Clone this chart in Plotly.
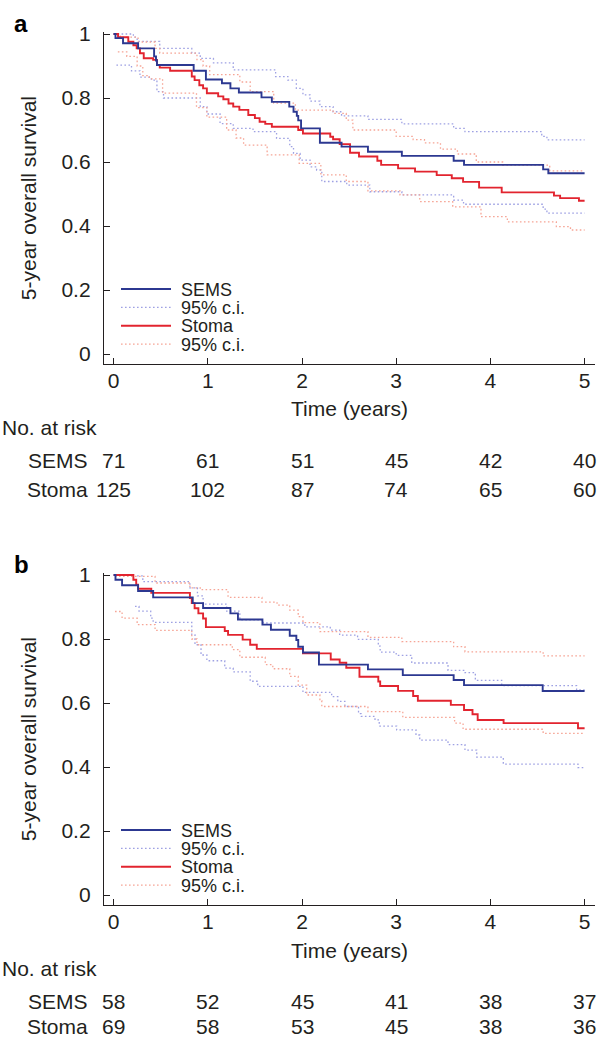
import plotly.graph_objects as go

W, H = 599, 1040

# ---------------- data ----------------
years = [0, 1, 2, 3, 4, 5]
y_tick_vals = [0, 0.2, 0.4, 0.6, 0.8, 1]
y_tick_text = ["0", "0.2", "0.4", "0.6", "0.8", "1"]
groups = ["SEMS", "Stoma"]
legend_labels = ["SEMS", "95% c.i.", "Stoma", "95% c.i."]

# Panel a – Kaplan-Meier estimates
a_sems_t = [0, 0.02, 0.10, 0.26, 0.43, 0.45, 0.46, 0.85, 0.98, 1.15, 1.24, 1.33, 1.57, 1.68,
            1.865, 1.91, 1.945, 1.96, 1.99, 2.19, 2.42, 2.70, 3.06, 3.61, 3.72, 4.56, 4.615, 5.0]
a_sems_s = [1.0, 0.987, 0.971, 0.955, 0.93, 0.917, 0.903, 0.885, 0.858, 0.846, 0.83, 0.817, 0.802, 0.788,
            0.773, 0.757, 0.744, 0.73, 0.705, 0.66, 0.648, 0.632, 0.619, 0.604, 0.591, 0.577, 0.565, 0.565]
a_sems_hi_t = [0, 0.21, 0.25, 0.49, 0.83, 0.92, 1.06, 1.27, 1.72, 1.85, 1.94, 2.01, 2.085, 2.19, 2.33,
               2.42, 2.70, 3.06, 3.61, 3.73, 4.545, 4.60, 5.0]
a_sems_hi_s = [1.0, 0.99, 0.977, 0.955, 0.94, 0.924, 0.91, 0.888, 0.867, 0.856, 0.83, 0.81, 0.79, 0.773, 0.757,
               0.744, 0.733, 0.719, 0.705, 0.695, 0.68, 0.669, 0.669]
a_sems_lo_t = [0.03, 0.19, 0.28, 0.40, 0.46, 0.53, 0.92, 0.99, 1.13, 1.27, 1.48, 1.73, 1.87, 1.91, 1.98,
               2.085, 2.155, 2.21, 2.475, 2.72, 3.06, 3.61, 3.715, 4.56, 4.60, 5.0]
a_sems_lo_s = [0.903, 0.885, 0.865, 0.856, 0.82, 0.80, 0.773, 0.75, 0.72, 0.705, 0.695, 0.674, 0.648, 0.627, 0.606,
               0.585, 0.575, 0.539, 0.528, 0.507, 0.497, 0.481, 0.468, 0.453, 0.44, 0.44]
a_stoma_t = [0, 0.047, 0.156, 0.21, 0.245, 0.28, 0.32, 0.42, 0.46, 0.49, 0.6, 0.83, 0.86, 0.91, 0.95, 0.99,
             1.11, 1.165, 1.22, 1.27, 1.335, 1.43, 1.50, 1.55, 1.61, 1.68, 1.96, 2.01, 2.30, 2.33, 2.40, 2.51,
             2.605, 2.80, 2.84, 3.02, 3.20, 3.43, 3.59, 3.71, 3.88, 4.12, 4.675, 4.74, 4.94, 5.0]
a_stoma_s = [1.0, 0.99, 0.976, 0.965, 0.955, 0.94, 0.924, 0.919, 0.903, 0.895, 0.885, 0.867, 0.856, 0.84, 0.83, 0.815,
             0.805, 0.796, 0.783, 0.773, 0.763, 0.747, 0.737, 0.726, 0.719, 0.71, 0.70, 0.689, 0.679, 0.671, 0.656, 0.629,
             0.617, 0.604, 0.591, 0.58, 0.57, 0.559, 0.549, 0.538, 0.52, 0.505, 0.495, 0.487, 0.479, 0.479]
a_stoma_hi_t = [0, 0.07, 0.26, 0.44, 0.49, 0.885, 0.95, 1.02, 1.34, 1.45, 1.70, 1.93, 2.33, 2.47, 2.54,
                3.00, 3.18, 3.30, 3.47, 3.65, 3.85, 4.13, 4.63, 5.0]
a_stoma_hi_s = [1.0, 0.99, 0.975, 0.955, 0.94, 0.92, 0.90, 0.873, 0.85, 0.82, 0.784, 0.762, 0.752, 0.731, 0.70,
                0.68, 0.67, 0.66, 0.64, 0.625, 0.60, 0.59, 0.572, 0.572]
a_stoma_lo_t = [0.045, 0.14, 0.25, 0.31, 0.38, 0.52, 0.88, 0.99, 1.20, 1.30, 1.38, 1.63, 1.97, 2.20, 2.47,
                2.70, 3.04, 3.25, 3.60, 3.90, 4.18, 4.70, 4.85, 5.0]
a_stoma_lo_s = [0.944, 0.93, 0.90, 0.87, 0.86, 0.815, 0.77, 0.74, 0.70, 0.675, 0.653, 0.622, 0.596, 0.56, 0.539,
                0.51, 0.497, 0.476, 0.46, 0.429, 0.413, 0.398, 0.3875, 0.3875]
a_risk_sems = [71, 61, 51, 45, 42, 40]
a_risk_stoma = [125, 102, 87, 74, 65, 60]

# Panel b – Kaplan-Meier estimates
b_sems_t = [0, 0.02, 0.09, 0.26, 0.42, 0.84, 0.95, 1.24, 1.32, 1.58, 1.67, 1.87, 1.94, 1.96, 2.01, 2.18,
            2.70, 3.07, 3.61, 3.72, 4.555, 5.0]
b_sems_s = [1.0, 0.985, 0.968, 0.95, 0.93, 0.912, 0.897, 0.88, 0.861, 0.845, 0.829, 0.81, 0.797, 0.776, 0.758, 0.72,
            0.705, 0.687, 0.672, 0.656, 0.6375, 0.6375]
b_sems_hi_t = [0.25, 0.31, 0.81, 0.89, 0.95, 1.20, 1.34, 1.59, 2.03, 2.30, 2.40, 2.59, 2.81, 2.83, 3.00,
               3.165, 3.55, 3.73, 3.84, 4.12, 4.915, 5.0]
b_sems_hi_s = [0.997, 0.979, 0.96, 0.935, 0.909, 0.887, 0.86, 0.85, 0.838, 0.828, 0.812, 0.799, 0.778, 0.759, 0.749,
               0.725, 0.702, 0.695, 0.671, 0.654, 0.641, 0.641]
b_sems_lo_t = [0.227, 0.27, 0.394, 0.42, 0.83, 0.864, 0.928, 0.99, 1.18, 1.27, 1.45, 1.53, 2.01, 2.315, 2.38,
               2.455, 2.60, 2.63, 2.775, 2.82, 3.005, 3.21, 3.25, 3.55, 3.73, 3.855, 4.137, 4.93, 5.0]
b_sems_lo_s = [0.902, 0.887, 0.865, 0.852, 0.813, 0.782, 0.75, 0.732, 0.709, 0.697, 0.668, 0.652, 0.633, 0.62, 0.605,
               0.589, 0.567, 0.558, 0.547, 0.528, 0.516, 0.50, 0.484, 0.47, 0.453, 0.431, 0.409, 0.398, 0.398]
b_stoma_t = [0, 0.21, 0.24, 0.26, 0.40, 0.81, 0.83, 0.86, 0.90, 0.95, 0.98, 1.18, 1.215, 1.37, 1.45, 1.52,
             2.01, 2.305, 2.40, 2.47, 2.61, 2.81, 2.83, 3.02, 3.18, 3.23, 3.58, 3.72, 3.81, 3.865, 4.14, 4.93, 5.0]
b_stoma_s = [1.0, 0.985, 0.97, 0.957, 0.944, 0.928, 0.912, 0.896, 0.88, 0.864, 0.837, 0.825, 0.813, 0.798, 0.782, 0.769,
             0.755, 0.736, 0.726, 0.71, 0.682, 0.667, 0.653, 0.638, 0.622, 0.607, 0.594, 0.578, 0.565, 0.547, 0.537, 0.521, 0.521]
b_stoma_hi_t = [0.015, 0.44, 0.81, 0.92, 1.215, 1.575, 1.735, 1.87, 1.96, 2.01, 2.19, 2.70, 3.06, 3.61, 3.73, 4.56, 5.0]
b_stoma_hi_s = [0.996, 0.975, 0.96, 0.954, 0.93, 0.915, 0.906, 0.89, 0.87, 0.851, 0.823, 0.805, 0.792, 0.776, 0.76, 0.747, 0.747]
b_stoma_lo_t = [0.015, 0.09, 0.25, 0.44, 0.83, 0.885, 1.26, 1.34, 1.61, 1.69, 1.87, 1.96, 2.05, 2.19, 2.21,
                2.70, 3.07, 3.62, 3.71, 4.56, 5.0]
b_stoma_lo_s = [0.886, 0.865, 0.845, 0.827, 0.80, 0.782, 0.767, 0.743, 0.72, 0.707, 0.683, 0.656, 0.625, 0.607, 0.589,
                0.573, 0.555, 0.537, 0.518, 0.505, 0.505]
b_risk_sems = [58, 52, 45, 41, 38, 37]
b_risk_stoma = [69, 58, 53, 45, 38, 36]

# ---------------- styling ----------------
FONT = "Liberation Sans, Arial, Helvetica, sans-serif"
TXT = "#231f20"
C_SEMS = "#2c3891"
C_STOMA = "#e2242f"
C_SEMS_CI = "#9ea1e3"
C_STOMA_CI = "#f6a596"
DOT = "1.6px,2.4px"
FS = 21


def px(x):
    return x / W


def py(y):
    return 1 - y / H


X_UNIT, X0 = 94.2, 113.6          # pixels per year, pixel of t=0
Y_UNIT = 320.0                     # pixels per unit survival
XR = [-0.102, 5.11]
YR = [-0.03125, 1.005]
x_dom = [px(X0 + XR[0] * X_UNIT), px(X0 + XR[1] * X_UNIT)]

panels = [
    dict(key="", y0=354, label="a",
         series=[(a_sems_hi_t, a_sems_hi_s, C_SEMS_CI, True), (a_sems_lo_t, a_sems_lo_s, C_SEMS_CI, True),
                 (a_stoma_hi_t, a_stoma_hi_s, C_STOMA_CI, True), (a_stoma_lo_t, a_stoma_lo_s, C_STOMA_CI, True),
                 (a_stoma_t, a_stoma_s, C_STOMA, False), (a_sems_t, a_sems_s, C_SEMS, False)],
         risk=[a_risk_sems, a_risk_stoma]),
    dict(key="2", y0=895, label="b",
         series=[(b_sems_hi_t, b_sems_hi_s, C_SEMS_CI, True), (b_sems_lo_t, b_sems_lo_s, C_SEMS_CI, True),
                 (b_stoma_hi_t, b_stoma_hi_s, C_STOMA_CI, True), (b_stoma_lo_t, b_stoma_lo_s, C_STOMA_CI, True),
                 (b_stoma_t, b_stoma_s, C_STOMA, False), (b_sems_t, b_sems_s, C_SEMS, False)],
         risk=[b_risk_sems, b_risk_stoma]),
]

fig = go.Figure()
annotations = []
shapes = []
layout_axes = {}

for p in panels:
    k = p["key"]
    y0 = p["y0"]
    ybot = y0 - YR[0] * Y_UNIT
    ytop = y0 - YR[1] * Y_UNIT
    for t, s, col, ci in p["series"]:
        fig.add_trace(go.Scatter(
            x=t, y=s, mode="lines", line_shape="hv",
            line=dict(color=col, width=1.3 if ci else 1.9, dash=DOT if ci else "solid"),
            xaxis="x" + k, yaxis="y" + k, showlegend=False, hoverinfo="skip"))

    axis_common = dict(showline=True, linecolor=TXT, linewidth=1.3, ticks="inside", ticklen=6,
                       tickwidth=1.3, tickcolor=TXT, showgrid=False, zeroline=False, automargin=False,
                       tickfont=dict(family=FONT, size=FS, color=TXT), fixedrange=True)
    layout_axes["xaxis" + k] = dict(axis_common, domain=x_dom, range=XR, tickvals=years,
                                    ticktext=[str(v) for v in years], anchor="y" + k,
                                    ticklabelstandoff=-2)
    layout_axes["yaxis" + k] = dict(axis_common, domain=[py(ybot), py(ytop)], range=YR,
                                    tickvals=y_tick_vals, ticktext=y_tick_text, anchor="x" + k,
                                    ticklabelstandoff=8)

    # panel letter
    annotations.append(dict(text="<b>%s</b>" % p["label"], x=px(21), y=py(y0 - 331), xref="paper",
                            yref="paper", showarrow=False, xanchor="center", yanchor="middle",
                            font=dict(family=FONT, size=24, color="#000")))
    # y title
    annotations.append(dict(text="5-year overall survival", x=px(28), y=py((ybot + ytop) / 2),
                            xref="paper", yref="paper", showarrow=False, textangle=-90,
                            xanchor="center", yanchor="middle", font=dict(family=FONT, size=FS, color=TXT)))
    # x title
    annotations.append(dict(text="Time (years)", x=2.5, xref="x" + k, y=py(ybot + 45), yref="paper",
                            showarrow=False, xanchor="center", yanchor="middle",
                            font=dict(family=FONT, size=FS, color=TXT)))
    # risk table
    annotations.append(dict(text="No. at risk", x=px(0), y=py(ybot + 63), xref="paper", yref="paper",
                            showarrow=False, xanchor="left", yanchor="middle",
                            font=dict(family=FONT, size=FS, color=TXT)))
    for gi, (g, counts) in enumerate(zip(groups, p["risk"])):
        row_y = min(ybot + 96 + gi * 29.5, H - 13.5)
        yy = py(row_y)
        annotations.append(dict(text=g, x=px(90), y=yy, xref="paper", yref="paper", showarrow=False,
                                xanchor="right", yanchor="middle",
                                font=dict(family=FONT, size=FS, color=TXT)))
        for yr, c in zip(years, counts):
            annotations.append(dict(text=str(c), x=yr, xref="x" + k, y=yy, yref="paper", showarrow=False,
                                    xanchor="center", yanchor="middle",
                                    font=dict(family=FONT, size=FS, color=TXT)))
    # legend
    leg_colors = [(C_SEMS, "solid", 1.9), (C_SEMS_CI, DOT, 1.3), (C_STOMA, "solid", 1.9), (C_STOMA_CI, DOT, 1.3)]
    for li, (lab, (col, dash, wdt)) in enumerate(zip(legend_labels, leg_colors)):
        ly = y0 - 320 + 255 + li * 18.4
        shapes.append(dict(type="line", xref="paper", yref="paper", x0=px(121), x1=px(171),
                           y0=py(ly), y1=py(ly), line=dict(color=col, width=wdt, dash=dash)))
        annotations.append(dict(text=lab, x=px(179), y=py(ly + 0.5), xref="paper", yref="paper",
                                showarrow=False, xanchor="left", yanchor="middle",
                                font=dict(family=FONT, size=18, color=TXT)))

fig.update_layout(
    width=W, height=H, margin=dict(l=0, r=0, t=0, b=0, pad=0, autoexpand=False),
    paper_bgcolor="white", plot_bgcolor="white", showlegend=False,
    annotations=annotations, shapes=shapes, **layout_axes)

fig.write_html("out.html", config={"displayModeBar": False},
               post_script="document.body.style.margin='0';document.body.style.padding='0';")
